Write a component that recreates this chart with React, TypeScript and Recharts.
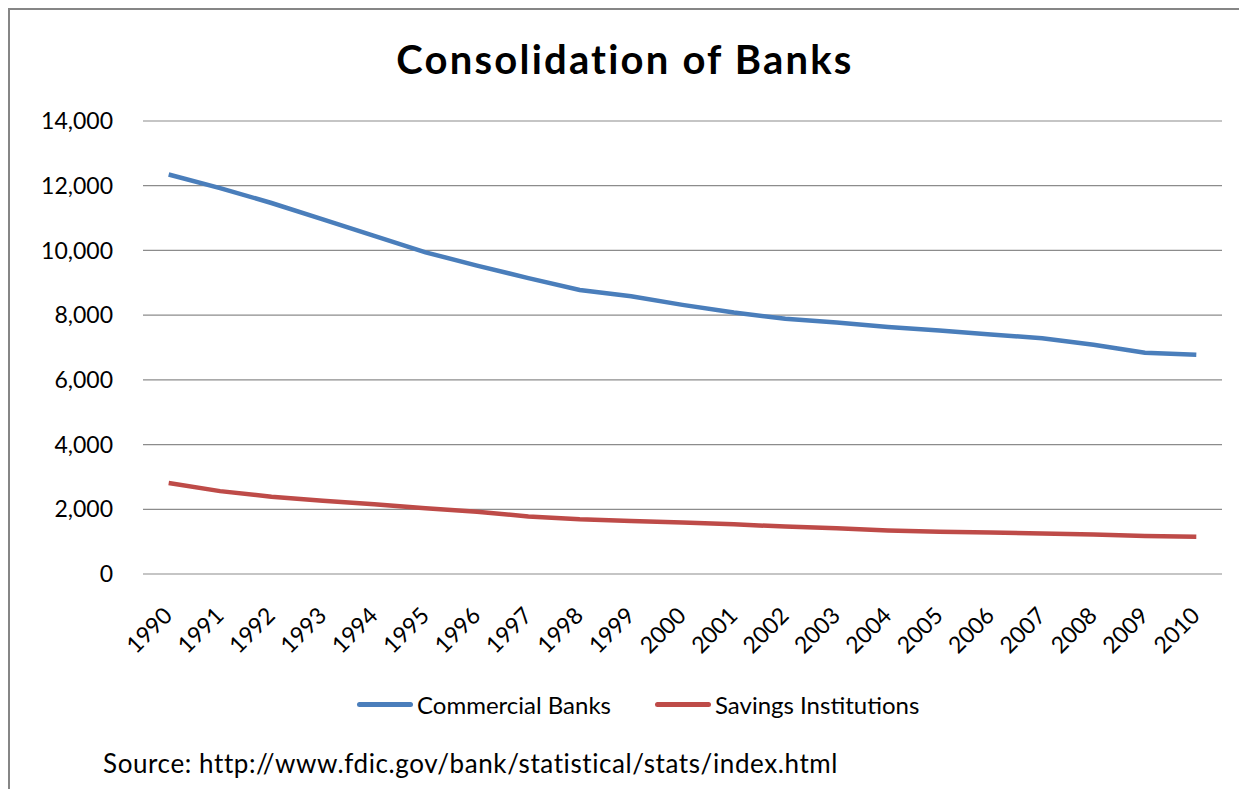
import React from 'react';
import { LineChart, Line, XAxis, YAxis, CartesianGrid, Legend } from 'recharts';

const years = [
  '1990', '1991', '1992', '1993', '1994', '1995', '1996', '1997', '1998', '1999', '2000',
  '2001', '2002', '2003', '2004', '2005', '2006', '2007', '2008', '2009', '2010',
];

const commercialBanks = [
  12347, 11927, 11466, 10960, 10453, 9942, 9530, 9144, 8777, 8582, 8317,
  8081, 7889, 7772, 7632, 7527, 7403, 7284, 7088, 6840, 6775,
];

const savingsInstitutions = [
  2815, 2561, 2390, 2262, 2152, 2030, 1926, 1779, 1690, 1640, 1590,
  1534, 1466, 1411, 1345, 1307, 1279, 1251, 1217, 1173, 1155,
];

const yTicks = [0, 2000, 4000, 6000, 8000, 10000, 12000, 14000];

const BLUE = '#4a7ebb';
const RED = '#be4b48';
const FONT = 'Lato, "Open Sans", sans-serif';

const data = years.map((year, i) => ({
  year,
  commercial: commercialBanks[i],
  savings: savingsInstitutions[i],
}));

const YearTick = (props: any) => {
  const { x, y, payload } = props;
  return (
    <g transform={`translate(${x + 5},${y + 43})`}>
      <text
        x={0}
        y={0}
        textAnchor="end"
        transform="rotate(-45)"
        fontSize={23}
        fontFamily={FONT}
        fill="#000"
      >
        {payload.value}
      </text>
    </g>
  );
};

const LegendContent = () => {
  const items = [
    { name: 'Commercial Banks', color: BLUE },
    { name: 'Savings Institutions', color: RED },
  ];
  return (
    <div style={{ display: 'flex', alignItems: 'center', paddingLeft: 349, fontFamily: FONT, fontSize: 24 }}>
      {items.map((it, i) => (
        <div key={it.name} style={{ display: 'flex', alignItems: 'center', marginRight: i === 0 ? 44 : 0 }}>
          <div style={{ width: 56, height: 5, borderRadius: 3, background: it.color, marginRight: 4 }} />
          <span style={{ color: '#000' }}>{it.name}</span>
        </div>
      ))}
    </div>
  );
};

export default function App() {
  return (
    <div style={{ position: 'relative', width: 1239, height: 781, background: '#fff', fontFamily: FONT }}>
      <div style={{ position: 'absolute', left: 0, top: 0, width: 1239, height: 2, background: '#868686' }} />
      <div style={{ position: 'absolute', left: 0, top: 0, width: 2, height: 781, background: '#868686' }} />
      <div
        style={{
          position: 'absolute',
          left: 0,
          width: 1234,
          top: 27,
          textAlign: 'center',
          fontWeight: 700,
          fontSize: 40,
          letterSpacing: 2.2,
          color: '#000',
        }}
      >
        Consolidation of Banks
      </div>
      <LineChart width={1239} height={781} data={data} margin={{ top: 113, right: 25, left: 0, bottom: 135 }}>
        <CartesianGrid vertical={false} stroke="#8c8c8c" strokeWidth={1.2} />
        <XAxis
          dataKey="year"
          scale="band"
          interval={0}
          axisLine={false}
          tickLine={false}
          tickSize={0}
          tickMargin={0}
          height={80}
          tick={<YearTick />}
        />
        <YAxis
          domain={[0, 14000]}
          ticks={yTicks}
          width={135}
          axisLine={false}
          tickLine={false}
          tickSize={0}
          tickMargin={30}
          tick={{ fill: '#000', fontSize: 23, fontFamily: FONT }}
          tickFormatter={(v: number) => v.toLocaleString('en-US')}
        />
        <Legend
          verticalAlign="middle"
          align="center"
          content={<LegendContent />}
          wrapperStyle={{ top: 682, left: 0, width: 1239 }}
        />
        <Line
          type="linear"
          dataKey="commercial"
          name="Commercial Banks"
          stroke={BLUE}
          strokeWidth={4.5}
          dot={false}
          isAnimationActive={false}
        />
        <Line
          type="linear"
          dataKey="savings"
          name="Savings Institutions"
          stroke={RED}
          strokeWidth={4.5}
          dot={false}
          isAnimationActive={false}
        />
      </LineChart>
      <div style={{ position: 'absolute', left: 95, top: 739, fontSize: 26, letterSpacing: 0.6, color: '#000' }}>
        Source: http://www.fdic.gov/bank/statistical/stats/index.html
      </div>
    </div>
  );
}
